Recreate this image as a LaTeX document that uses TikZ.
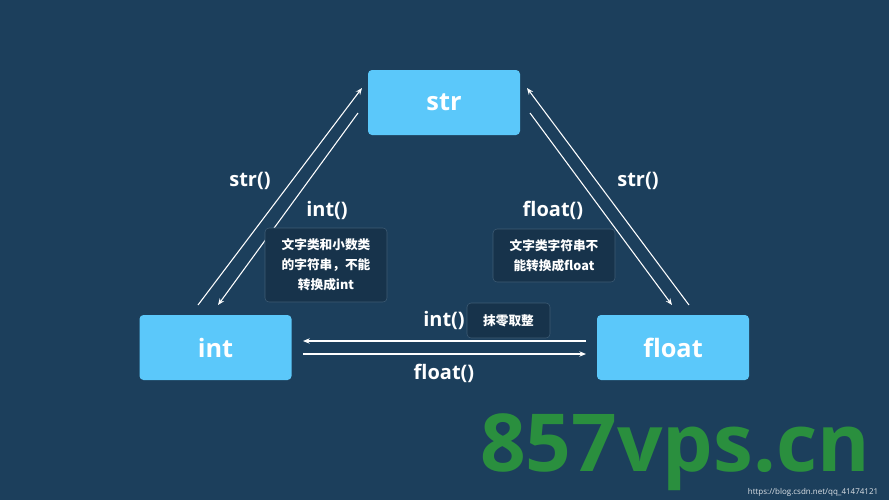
\documentclass[tikz,border=0pt]{standalone}
\usepackage{fontspec}
\setmainfont{Open Sans}
\newfontfamily\cjk{Noto Sans CJK SC}
\usetikzlibrary{arrows.meta}
\definecolor{bg}{HTML}{1C3F5C}
\definecolor{boxc}{HTML}{5BC8FA}
\definecolor{notec}{HTML}{17334B}
\definecolor{wm}{HTML}{2A8F3E}
\tikzset{
  typebox/.style={fill=boxc,rounded corners=3pt,minimum width=152*0.75pt,minimum height=65*0.75pt,font=\bfseries\fontsize{19}{21}\selectfont,text=white},
  note/.style={fill=notec,draw=white!15!bg,rounded corners=3pt,font=\cjk\bfseries\fontsize{9.5}{15}\selectfont,text=white,align=center,inner sep=0pt},
  lbl/.style={font=\bfseries\fontsize{15}{17}\selectfont,text=white},
  conv/.style={draw=white,line width=0.8pt,-{Stealth[length=5pt,width=4pt]}}
}
\begin{document}
\begin{tikzpicture}[x=0.75pt,y=-0.75pt]
\fill[bg] (0,0) rectangle (889,500);
\useasboundingbox (0,0) rectangle (889,500);
\node[typebox] (str) at (444,102.5) {str};
\node[typebox] (int) at (215.5,347.5) {int};
\node[typebox] (float) at (673,347.5) {float};
\coordinate (a1) at (198,305); \coordinate (a2) at (362,88);
\coordinate (b1) at (358,113); \coordinate (b2) at (218,305);
\coordinate (c1) at (689,305); \coordinate (c2) at (527,88);
\coordinate (d1) at (530,113); \coordinate (d2) at (672,305);
\coordinate (e1) at (586,341); \coordinate (e2) at (303,341);
\coordinate (f1) at (303,354); \coordinate (f2) at (586,354);
\draw[conv] (a1) -- (a2);
\draw[conv] (b1) -- (b2);
\draw[conv] (c1) -- (c2);
\draw[conv] (d1) -- (d2);
\draw[conv] (e1) -- (e2);
\draw[conv] (f1) -- (f2);
\node[lbl] (l1) at (250,181) {str()};
\node[lbl] (l2) at (327,210) {int()};
\node[lbl] (l3) at (553,210) {float()};
\node[lbl] (l4) at (638,181) {str()};
\node[lbl] (l5) at (444,320) {int()};
\node[lbl] (l6) at (444,373) {float()};
\node[note,minimum width=122*0.75pt,minimum height=74*0.75pt] (n1) at (326,265) {文字类和小数类\\的字符串，不能\\转换成int};
\node[note,minimum width=122*0.75pt,minimum height=53*0.75pt] (n2) at (554,255.5) {文字类字符串不\\能转换成float};
\node[note,minimum width=83*0.75pt,minimum height=35*0.75pt] (n3) at (508.5,320.5) {抹零取整};
\node[font=\bfseries\fontsize{60}{60}\selectfont,text=wm,inner sep=0pt] (wm) at (675,452) {857vps.cn};
\node[font=\fontsize{6}{7}\selectfont,text=white!85!bg,inner sep=1pt] (url) at (813,492) {https://blog.csdn.net/qq\_41474121};
\end{tikzpicture}
\end{document}
